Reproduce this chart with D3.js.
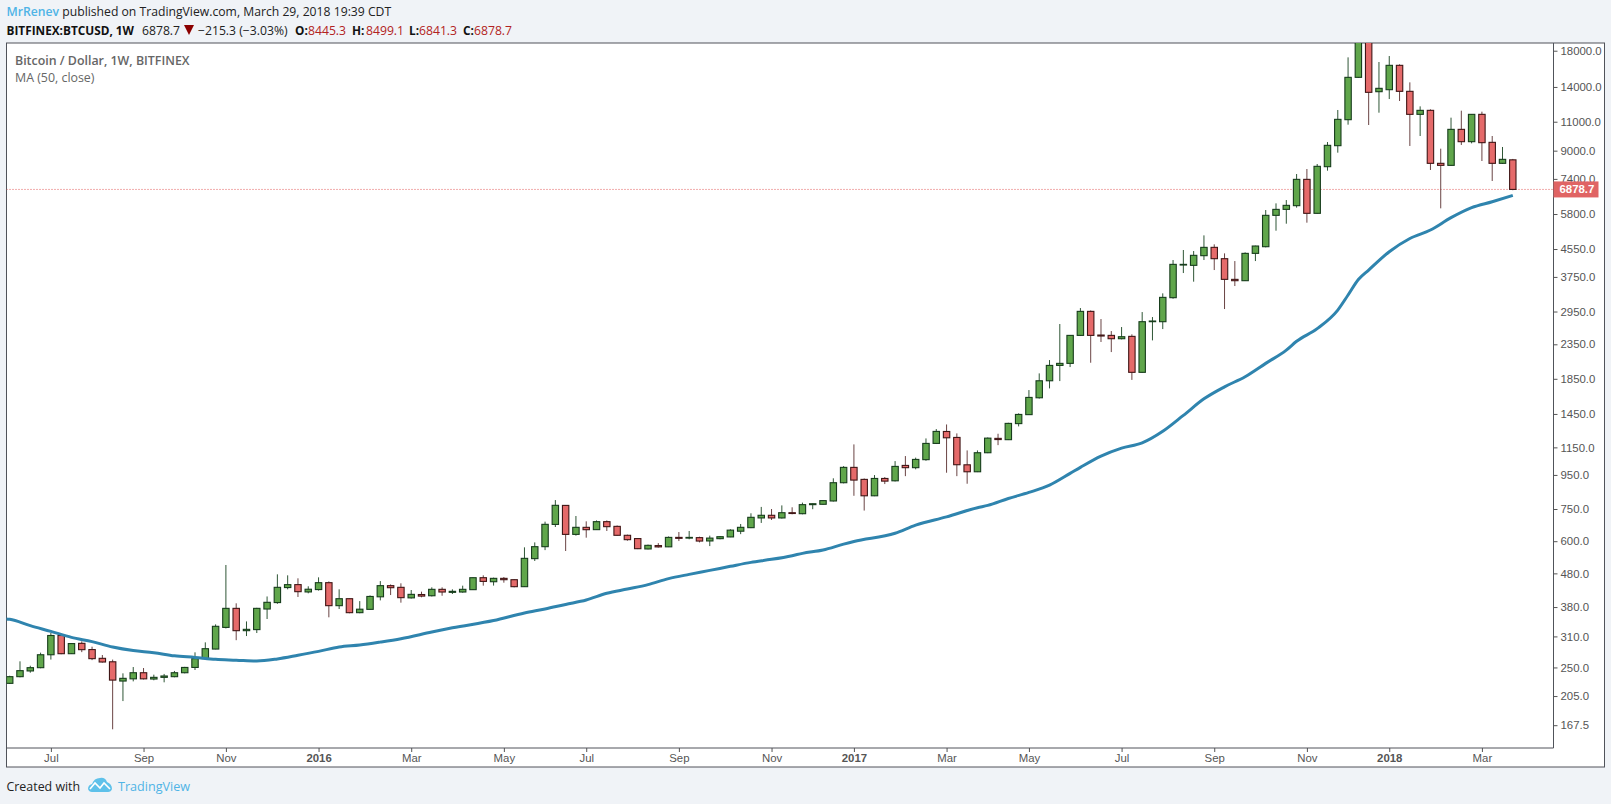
<!DOCTYPE html>
<html>
<head>
<meta charset="utf-8">
<script src="https://cdn.jsdelivr.net/npm/d3@7"></script>
<style>
html,body{margin:0;padding:0;background:#f0f3f7;overflow:hidden}
text{font-family:"Open Sans",sans-serif}
.axis text{font-family:"Liberation Sans",sans-serif;font-size:11.4px;fill:#555}
.axis line{stroke:#555}
.axis path{display:none}
</style>
</head>
<body>
<script>
// weekly candles (Jun 2015 - Mar 2018)
let opens = [223.9,234.5,244,249.6,273,312,275,295.5,283,266.3,260,227.5,231,241,230.7,233.4,234.5,241,250,265.7,
  284,330,376.6,322.6,325,374.9,392,435,444,422,429,450,383.7,402.7,365.5,374,408,440.8,435.7,405,
  414.5,411,429.7,420.8,421.8,428.7,465.8,453,463.7,459.4,437.7,531.6,577.6,674,769,629,660.5,650,687,665,
  625,611,568.5,582,577,616,613,615,601,610.6,618,643,659,705,718,705,731,726,773,775,
  793,900,1001,921,822,927,912,1014.7,999,1056,1182,1284,1232,1019,971,1108,1224,1213,1356,1443,
  1622,1825,2030,2059,2500,2953,2506,2500,2443,2483,1935,2749,2749,3247,4072,4063,4345,4603,4255,3687,
  3653,4415,4624,5747,5990,6146,7376,5828,8054,9317,11157,14964,19100,13547,13737,16263,13580,11577,11903,8243,
  8128,10433,9579,11577,9535,8243,8445.3];
let highs = [236,260.8,253,277,318,314,295.5,299.6,288.7,272.5,264,240,250.7,249,237.8,239,244,251,277.6,297.5,
  337,508.7,390,344,378,409,476.8,473.5,463.8,438.8,467,454,429.7,403,396,412,455,444.6,448,427.7,
  422.8,435.7,435.7,429.7,440.8,466.9,473.5,466,468,461,575,595,687,798,770,714.5,688.6,693,693,669,
  628,612,586,592,620,639.4,644,619,623.5,622,652,676,728,761,750,769,759,784,779,798,
  928,1010,1174,927,949,936,1045.6,1082.8,1071,1223.6,1305.6,1348,1267,1126,1126,1232,1264,1364,1456,1711,
  1921,2107,2705,2505,3022,2972,2800,2576,2649,2518,2939,2839,3346,4216,4519,4487,5002,4700,4415,4186,
  4446,4657,5963,6245,6391,7654,7925,8205,9555,11932,17190,19700,19800,16643,17349,16378,14454,12238,11986,9125,
  11314,11876,11602,11795,9963,9232,8499.1];
let lows = [222.9,233.5,241,248.6,264,274,274.5,278,263,258.5,162.8,198,227,230,228.7,225.5,233.5,240,245.6,264,
  283.5,327.6,302,310.8,317.4,349.8,388.6,429.7,407.5,418,426,353.9,374.9,364,364,373,398,413,391.7,403,
  406.6,409,411,416,419.8,427.7,440.8,441,450,435.7,437,523,564,662,560.5,623.5,614.8,649,644,623.5,
  602,568,567,574,576,600.6,608,595,580,608,617,630,657,681,695,702,723,723,749,773,
  790,896,822,742,820,891.6,908,942,987.6,1048,1177,964.6,942,893.6,969,1105,1168,1210,1330,1440,
  1613,1731,1821,2007,2489,2068,2388,2227,2432,1836,1930,2415,2612,3224,3852,3628,4216,3933,3001,3520,
  3646,4186,4603,5167,5424,6062,5462,5815,7834,8875,10777,14900,10753,11711,12876,12700,9297,9963,7871,6033,
  8108,9362,9468,8377,7293,8205,6841.3];
let closes = [234.5,244.5,249.6,273,312,275,295,282.8,265.7,259.6,229,231.8,241,231,233.4,235.6,241,250,265.7,284.7,
  332.5,376.6,322.6,325.6,376.6,392.7,435.7,443.9,422.8,430,450,383.7,402.7,365.5,374.4,409,440.8,434.6,405.6,415,
  410,429.7,421.8,423.8,429.7,465.8,454,463.7,459.4,437.7,532.7,577.6,674.4,769.4,629,660.5,649.8,687,663.6,625,
  606.4,569.6,583,576.7,616,612,616,600.6,613,619,647.8,660.5,708,718,705,731,727,773,778,795,
  900,1001,916.6,822,927,910,1007.8,999,1057.8,1182,1284.6,1229,1019.6,971,1108,1226,1214,1358,1445,1626,
  1825,2030,2059,2500,2953,2500,2489,2443,2477,1935,2749,2762,3254,4091,4091,4355,4603,4255,3687,3653,
  4415,4646,5747,5990,6159,7376,5828,8073,9338,11182,14964,19200,13487,13865,16263,13580,11577,11903,8243,8128,
  10433,9579,11577,9513,8243,8474,6878.7];

// MA (50, close), sampled along the line
let maBars = [-1,0,2,4,6,8,10,12,14,16,18,20,22,24,26,28,30,32,34,36,38,41,43,47,50,52,54,56,58,60,62,64,66,68,70,72,74,76,77,79,81,82,86,88,91,94,95,97,99,101,103,104,106,108,110,112,114,116,118,120,122,124,125,127,129,130,131,132,134,136,138,140,142,144,146];
let maValues = [351,349,334,321,308,299,288,281,277,271,268,264.5,263,261.4,265.2,272,279.5,288,292,298,305,319.5,329,346,364.6,375,387,399,418,430.6,444,462.7,476.7,490,504,518,529,542.7,551.5,564.5,588,599,634,671,710,757,769,807,841.5,885,960,1001,1082,1144,1186,1285,1435,1610,1750,1877,2059,2258,2400,2620,2980,3308,3683,3933,4466,4896,5191,5655,6062,6318,6601];

let priceTicks = [18000,14000,11000,9000,7400,5800,4550,3750,2950,2350,1850,1450,1150,950,750,600,480,380,310,250,205,167.5];
let timeBars = [4,13,21,30,39,48,56,65,74,82,91,99,108,117,126,134,143];
let timeLabels = ["Jul","Sep","Nov","2016","Mar","May","Jul","Sep","Nov","2017","Mar","May","Jul","Sep","Nov","2018","Mar"];
let lastClose = 6878.7;

let width = 1611, height = 804;
let left = 6.5, top_ = 43, right = 1553.5, bottom = 748, frameR = 1604.5, frameB = 767;

let svg = d3.select("body").append("svg")
  .attr("width",width)
  .attr("height",height)
  .style("display","block");

let x = d3.scaleLinear().domain([0,146]).range([9.7,1512.8]);
let y = d3.scaleLog().domain([143,18988]).range([bottom,top_]);

svg.append("rect").attr("x",left).attr("y",top_).attr("width",frameR-left).attr("height",frameB-top_)
  .attr("fill","#fff").attr("stroke","#50535a").attr("stroke-width",1);

svg.append("clipPath").attr("id","pane").append("rect")
  .attr("x",left).attr("y",top_).attr("width",right-left).attr("height",bottom-top_);

let pane = svg.append("g").attr("clip-path","url(#pane)");

// last price line
pane.append("line").attr("x1",left).attr("x2",right).attr("y1",y(lastClose)).attr("y2",y(lastClose))
  .attr("stroke","#e25b5b").attr("stroke-width",1).attr("stroke-dasharray","1,2");

let bars = pane.selectAll("g.bar").data(closes).enter().append("g").attr("class","bar");
function isUp(i){ return closes[i]>=opens[i] }

bars.append("line")
  .attr("x1",(d,i)=>x(i)).attr("x2",(d,i)=>x(i))
  .attr("y1",(d,i)=>y(highs[i])).attr("y2",(d,i)=>y(lows[i]))
  .attr("stroke",(d,i)=>isUp(i)?"#2f5636":"#6a4444")
  .attr("stroke-width",1);

bars.append("rect")
  .attr("x",(d,i)=>x(i)-3.2)
  .attr("width",6.4)
  .attr("y",(d,i)=>y(Math.max(opens[i],closes[i])))
  .attr("height",(d,i)=>Math.max(0.6,Math.abs(y(opens[i])-y(closes[i]))))
  .attr("fill",(d,i)=>isUp(i)?"#60a64b":"#e56a6a")
  .attr("stroke",(d,i)=>isUp(i)?"#173d1c":"#401616")
  .attr("stroke-width",1.1);

let maLine = d3.line().x(d=>x(d)).y((d,i)=>y(maValues[i])).curve(d3.curveMonotoneX);
pane.append("path").attr("d",maLine(maBars))
  .attr("fill","none").attr("stroke","#2f84ae").attr("stroke-width",3);

// axes
let yAxis = svg.append("g").attr("class","axis")
  .attr("transform","translate("+right+",0)")
  .call(d3.axisRight(y).tickValues(priceTicks).tickFormat(d3.format(".1f")).tickSize(4).tickPadding(3));
let xAxis = svg.append("g").attr("class","axis")
  .attr("transform","translate(0,"+bottom+")")
  .call(d3.axisBottom(x).tickValues(timeBars).tickFormat((d,i)=>timeLabels[i]).tickSize(4).tickPadding(2));
xAxis.selectAll("text").style("font-weight",(d,i)=>timeLabels[i].length==4?"bold":"normal");

svg.append("line").attr("x1",right).attr("x2",right).attr("y1",top_).attr("y2",bottom).attr("stroke","#50535a");
svg.append("line").attr("x1",left).attr("x2",right).attr("y1",bottom).attr("y2",bottom).attr("stroke","#50535a");

// last price tag
svg.append("rect").attr("x",right).attr("y",y(lastClose)-8).attr("width",45).attr("height",16).attr("fill","#e06464");
svg.append("text").attr("x",right+6).attr("y",y(lastClose)+4)
  .style("font-family","'Liberation Sans',sans-serif").style("font-size","11.4px").style("font-weight","bold")
  .attr("fill","#fff").text("6878.7");

// legend in the pane
svg.append("text").attr("x",15).attr("y",65).attr("fill","#666")
  .style("font-size","12.4px").style("font-weight","600").text("Bitcoin / Dollar, 1W, BITFINEX");
svg.append("text").attr("x",15).attr("y",82).attr("fill","#666")
  .style("font-size","12.4px").text("MA (50, close)");

// header
let head1 = svg.append("text").attr("x",6.5).attr("y",16).style("font-size","12.2px").attr("fill","#222");
head1.append("tspan").attr("fill","#4fb4e6").style("font-weight","600").text("MrRenev");
head1.append("tspan").text(" published on TradingView.com, March 29, 2018 19:39 CDT");

let head2 = svg.append("text").attr("y",34.5).style("font-size","12.2px");
[[6.5,"BITFINEX:BTCUSD, 1W",1,"#111"],[142,"6878.7",0,"#222"],[198,"−215.3 (−3.03%)",0,"#222"],
 [295,"O:",1,"#111"],[308,"8445.3",0,"#b22222"],[352,"H:",1,"#111"],[366,"8499.1",0,"#b22222"],
 [409,"L:",1,"#111"],[419,"6841.3",0,"#b22222"],[463,"C:",1,"#111"],[474,"6878.7",0,"#b22222"]].forEach(function(p){
  head2.append("tspan").attr("x",p[0]).attr("fill",p[3])
    .style("font-weight",p[2]?"700":"400").style("font-size",p[2]?"11.8px":"12.2px").text(p[1]);
});
svg.append("path").attr("d","M184,25 L194,25 L189,35 Z").attr("fill","#8b0000");

// footer
svg.append("text").attr("x",6.5).attr("y",791).attr("fill","#222").style("font-size","12.4px").text("Created with");
svg.append("path")
  .attr("d","M88,789 Q88,785 92,784 Q94,778 100,778 Q105,777 107,782 Q112,784 112,789 Q111,792 108,792 L92,792 Q89,792 88,789 Z")
  .attr("fill","#5ec1ea");
svg.append("path").attr("d","M90,789 L95,783 L100,788 L104,783 L110,789")
  .attr("fill","none").attr("stroke","#fff").attr("stroke-width",1.6);
svg.append("text").attr("x",118).attr("y",791).attr("fill","#4fb4e6").style("font-size","12.6px").text("TradingView");
</script>
</body>
</html>
